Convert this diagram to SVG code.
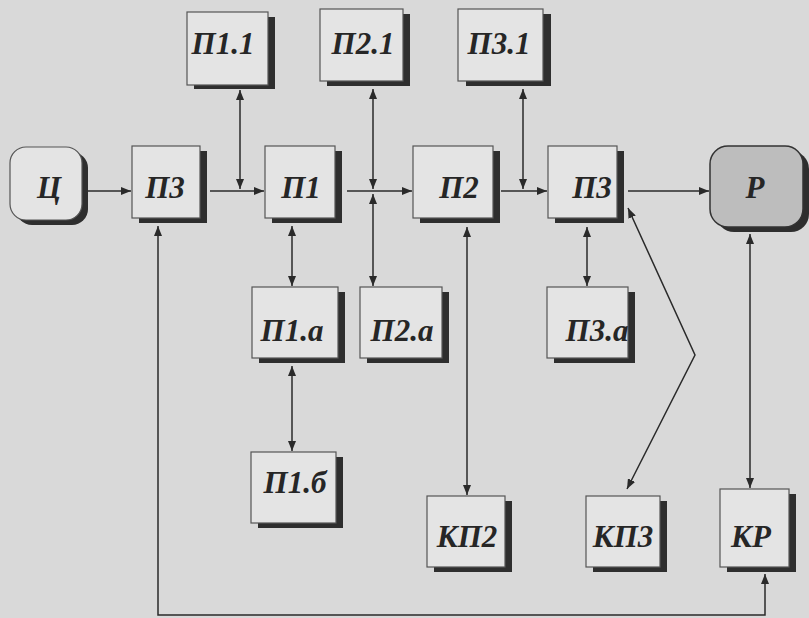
<svg xmlns="http://www.w3.org/2000/svg" width="809" height="618" viewBox="0 0 809 618">
<defs>
<marker id="ah" markerUnits="userSpaceOnUse" markerWidth="10" markerHeight="8" refX="10" refY="4" orient="auto-start-reverse"><path d="M0,0 L10,4 L0,8 z" fill="#2a2a2a"/></marker>
<style>
.bx{fill:#e4e4e4;stroke:#555;stroke-width:1.2}
.sh{fill:#2e2e2e}
.r{fill:#bdbdbd;stroke:#333;stroke-width:1.5}
.t{font-family:"Liberation Serif","Times New Roman",serif;font-weight:bold;font-style:italic;font-size:31px;fill:#262626;text-anchor:middle}
.c{fill:none;stroke:#2a2a2a;stroke-width:1.5}
.a{marker-end:url(#ah)}
.b{marker-start:url(#ah);marker-end:url(#ah)}
</style>
</defs>
<rect width="809" height="618" fill="#d9d9d9"/>
<g id="connectors">
<line class="c a" x1="86" y1="191" x2="131" y2="191"/>
<line class="c a" x1="210" y1="191" x2="264" y2="191"/>
<line class="c b" x1="240" y1="90" x2="240" y2="189"/>
<line class="c a" x1="347" y1="191" x2="412" y2="191"/>
<line class="c b" x1="373" y1="89" x2="373" y2="189"/>
<line class="c b" x1="373" y1="194" x2="373" y2="286"/>
<line class="c a" x1="501" y1="191" x2="547" y2="191"/>
<line class="c b" x1="523" y1="89" x2="523" y2="189"/>
<line class="c a" x1="628" y1="191" x2="709" y2="191"/>
<line class="c b" x1="292" y1="226" x2="292" y2="286"/>
<line class="c b" x1="292" y1="366" x2="292" y2="451"/>
<line class="c b" x1="467" y1="227" x2="467" y2="495"/>
<line class="c b" x1="587" y1="227" x2="587" y2="286"/>
<polyline class="c b" points="627,489 695,355 628,208"/>
<line class="c b" x1="750" y1="234" x2="750" y2="488"/>
<polyline class="c b" points="765,574 765,615 158,615 158,226"/>
</g>
<g id="n_P1_1"><rect class="sh" x="194" y="17" width="81" height="72"/><rect class="bx" x="187" y="12" width="81" height="73"/><text class="t" x="223" y="54">П1.1</text></g>
<g id="n_P2_1"><rect class="sh" x="327" y="14" width="83" height="72"/><rect class="bx" x="320" y="9" width="83" height="72"/><text class="t" x="363" y="54">П2.1</text></g>
<g id="n_P3_1"><rect class="sh" x="466" y="14" width="85" height="72"/><rect class="bx" x="458" y="9" width="85" height="72"/><text class="t" x="499" y="54">П3.1</text></g>
<g id="n_C"><rect class="sh" x="16" y="152" width="72" height="73" rx="16"/><rect class="bx" x="10" y="147" width="72" height="73" rx="16"/><text class="t" x="49" y="198">Ц</text></g>
<g id="n_P3_start"><rect class="sh" x="139" y="151" width="68" height="72"/><rect class="bx" x="132" y="146" width="68" height="72"/><text class="t" x="165" y="198">П3</text></g>
<g id="n_P1"><rect class="sh" x="272" y="151" width="70" height="72"/><rect class="bx" x="265" y="146" width="70" height="72"/><text class="t" x="301" y="198">П1</text></g>
<g id="n_P2"><rect class="sh" x="420" y="151" width="80" height="72"/><rect class="bx" x="413" y="146" width="80" height="72"/><text class="t" x="459" y="198">П2</text></g>
<g id="n_P3"><rect class="sh" x="555" y="151" width="69" height="72"/><rect class="bx" x="548" y="146" width="69" height="72"/><text class="t" x="592" y="198">П3</text></g>
<g id="n_R"><rect class="sh" x="716" y="151" width="93" height="81" rx="18"/><rect class="r" x="710" y="146" width="93" height="81" rx="18"/><text class="t" x="755" y="198">Р</text></g>
<g id="n_P1_a"><rect class="sh" x="259" y="292" width="86" height="71"/><rect class="bx" x="252" y="287" width="86" height="71"/><text class="t" x="292" y="341">П1.а</text></g>
<g id="n_P2_a"><rect class="sh" x="367" y="292" width="82" height="71"/><rect class="bx" x="360" y="287" width="82" height="71"/><text class="t" x="402" y="341">П2.а</text></g>
<g id="n_P3_a"><rect class="sh" x="554" y="292" width="81" height="71"/><rect class="bx" x="547" y="287" width="81" height="71"/><text class="t" x="597" y="341">П3.а</text></g>
<g id="n_P1_b"><rect class="sh" x="258" y="457" width="85" height="71"/><rect class="bx" x="251" y="452" width="85" height="71"/><text class="t" x="295" y="493">П1.б</text></g>
<g id="n_KP2"><rect class="sh" x="434" y="501" width="78" height="71"/><rect class="bx" x="427" y="496" width="78" height="71"/><text class="t" x="467" y="547">КП2</text></g>
<g id="n_KP3"><rect class="sh" x="593" y="501" width="74" height="71"/><rect class="bx" x="586" y="496" width="74" height="71"/><text class="t" x="623" y="547">КП3</text></g>
<g id="n_KR"><rect class="sh" x="727" y="494" width="69" height="78"/><rect class="bx" x="720" y="489" width="69" height="78"/><text class="t" x="751" y="547">КР</text></g>
</svg>
